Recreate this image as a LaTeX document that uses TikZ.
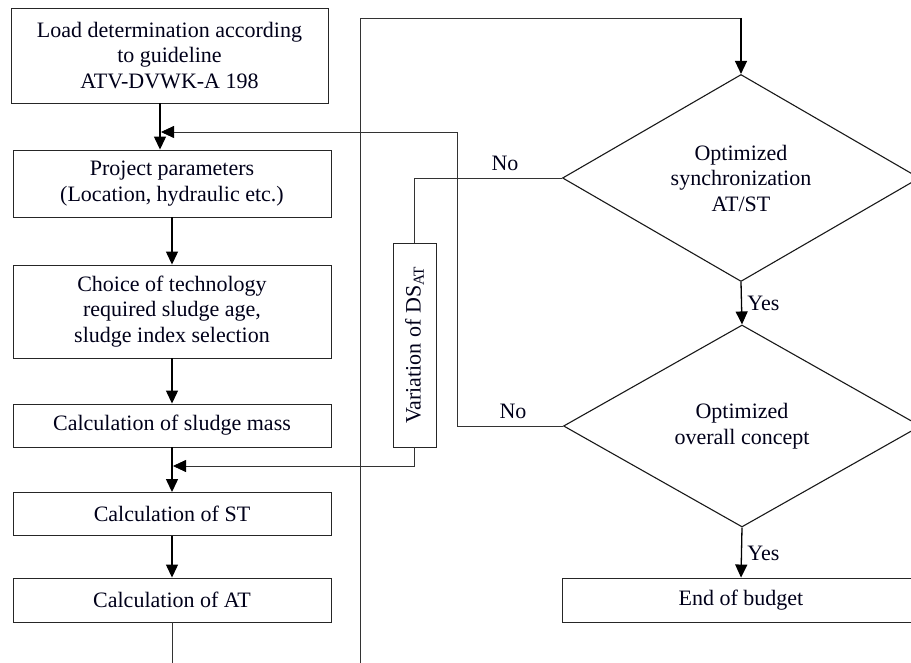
\documentclass[tikz,border=0pt]{standalone}
\usepackage{fontspec}
\setmainfont{Liberation Serif}
\usetikzlibrary{shapes.geometric,arrows.meta,calc}
\begin{document}
\begin{tikzpicture}[x=1pt,y=-1pt,
  txt/.style={font=\fontsize{22}{25.5}\selectfont, text=black!90!blue},
  box/.style={txt, draw=black!85, line width=0.9pt, rectangle, inner sep=0pt, align=center},
  dec/.style={txt, draw=black!90, line width=1.1pt, diamond, inner sep=0pt, align=center,
              minimum width=357pt, minimum height=202pt},
  tip/.style={-{Triangle[length=13pt,width=12pt,color=black]}},
  arr/.style={tip, line width=1.3pt, black},
  ln/.style={line width=0.8pt, draw=black!80}]
\useasboundingbox (0,0) rectangle (911,663);

% left column
\node[box, minimum width=317pt, minimum height=95pt] (b1) at (169.5,55.5)
  {Load determination according\\to guideline\\ATV-DVWK-A 198};
\node[box, minimum width=318pt, minimum height=67pt] (b2) at (172,183.5)
  {Project parameters\\(Location, hydraulic etc.)};
\node[box, minimum width=318pt, minimum height=93pt] (b3) at (172,311.5)
  {Choice of technology\\required sludge age,\\sludge index selection};
\node[box, minimum width=318pt, minimum height=43pt] (b4) at (172,425.5)
  {Calculation of sludge mass};
\node[box, minimum width=318pt, minimum height=43pt] (b5) at (172,514)
  {Calculation of ST};
\node[box, minimum width=318pt, minimum height=44pt] (b6) at (172,600)
  {Calculation of AT};

% variation box
\node[box, rotate=90, minimum width=204pt, minimum height=43pt] (var) at (414.5,345)
  {Variation of DS\textsubscript{AT}};

% right column
\node[dec] (d1) at (741,178) {Optimized\\synchronization\\AT/ST};
\node[dec] (d2) at (742,426) {Optimized\\overall concept};
\node[box, minimum width=358pt, minimum height=44pt] (end) at (741,600) {End of budget};

% coordinates
\coordinate (j1) at (161,132);
\coordinate (fbc) at (457,132);
\coordinate (j2) at (173,466);
\coordinate (top) at (360,18);
\coordinate (bot) at (360,663);
\coordinate (b6end) at (172,663);

% main arrows
\draw[arr] ([xshift=-9.5pt]b1.south) -- ([xshift=-9.5pt]b1.south |- b2.north);
\draw[arr] (b2) -- (b3);
\draw[arr] (b3) -- (b4);
\draw[arr] (b4) -- (b5);
\draw[arr] (b5) -- (b6);
\draw[ln] (b6.south) -- (b6end);

% loop up to first decision
\draw[ln] (bot) -- (top) -- (top -| d1.north);
\draw[arr] (top -| d1.north) -- (d1.north);

% decisions
\draw[arr] (d1.south) -- (d2.north) node[txt, midway, right, xshift=2pt] {Yes};
\draw[arr] (d2.south) -- (end.north) node[txt, midway, right, xshift=2pt, yshift=-1pt] {Yes};

% No branches
\draw[ln] (d1.west) -| (var);
\draw[ln, tip] (var) |- (j2);
\draw[ln] (d2.west) -| (fbc);
\draw[ln, tip] (fbc) -- (j1);

\node[txt] (no1) at (505,163) {No};
\node[txt] (no2) at (513,411) {No};
\end{tikzpicture}
\end{document}
